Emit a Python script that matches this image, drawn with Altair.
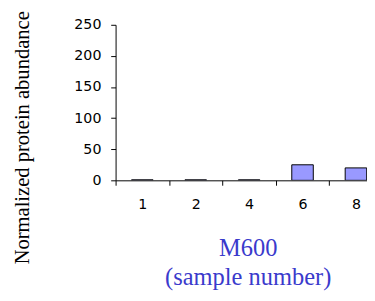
import altair as alt
import pandas as pd

samples = ["1", "2", "4", "6", "8"]
abundance = [0.8, 0.8, 0.8, 25, 20]
y_ticks = [0, 50, 100, 150, 200, 250]

df = pd.DataFrame({"sample": samples, "abundance": abundance})

chart = alt.Chart(df).mark_bar(
    size=22, fill="#9999ff", stroke="black", strokeWidth=1, clip=True
).encode(
    x=alt.X("sample:N", sort=samples,
            scale=alt.Scale(domain=samples, range=[0, 273], paddingInner=0, paddingOuter=0),
            axis=alt.Axis(title=["M600", "(sample number)"], labelAngle=0,
                          tickBand="extent", tickSize=5, labelPadding=13,
                          labelFont="DejaVu Sans", labelFontSize=14.5, labelColor="black",
                          domainColor="black", tickColor="black",
                          titleFont="Liberation Serif", titleFontSize=25, titleFontWeight="normal",
                          titleColor="#3a3acc", titleX=135, titleY=77, titleBaseline="alphabetic",
                          titleLineHeight=30)),
    y=alt.Y("abundance:Q",
            scale=alt.Scale(domain=[0, 250], nice=False),
            axis=alt.Axis(values=y_ticks, title="Normalized protein abundance", grid=False,
                          tickSize=5, labelPadding=10,
                          labelFont="DejaVu Sans", labelFontSize=14.5, labelColor="black",
                          domainColor="black", tickColor="black",
                          titleFont="Liberation Serif", titleFontSize=21, titleFontWeight="normal",
                          titleColor="black", titleAngle=270, titleX=-89, titleY=115,
                          titleAlign="center", titleBaseline="alphabetic")),
).properties(
    width=257, height=159,
    autosize=alt.AutoSizeParams(type="none"),
    padding={"left": 110, "top": 14, "right": 0, "bottom": 112},
).configure_view(stroke=None)

chart.save("out.html", embed_options={"renderer": "svg", "actions": False})
